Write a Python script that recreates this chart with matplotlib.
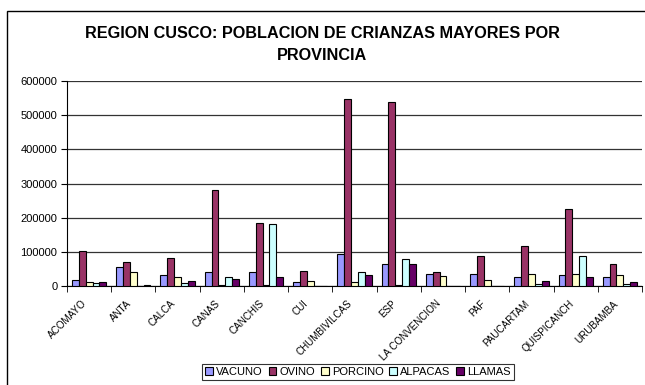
import matplotlib
matplotlib.use("Agg")
import matplotlib.pyplot as plt
import numpy as np
from matplotlib.patches import Rectangle

plt.rcParams['font.family'] = ['Liberation Sans', 'DejaVu Sans']

provincias = ["ACOMAYO", "ANTA", "CALCA", "CANAS", "CANCHIS", "CUI",
              "CHUMBIVILCAS", "ESP", "LA CONVENCION", "PAF", "PAUCARTAM",
              "QUISPICANCH", "URUBAMBA"]
vacuno  = [17500, 54500, 31000, 41000, 40000, 11500, 93000, 64000, 36000, 34000, 27000, 31000, 25000]
ovino   = [101000, 70000, 83000, 280000, 183000, 44500, 546000, 540000, 40000, 88000, 117000, 225000, 64000]
porcino = [11000, 40000, 25000, 2000, 2000, 15000, 11500, 1500, 30000, 17500, 35000, 34000, 31000]
alpacas = [8000, 1000, 10000, 25000, 181000, 500, 40000, 78000, 0, 500, 5000, 88500, 5000]
llamas  = [12500, 1500, 15500, 21500, 26000, 1000, 31000, 64000, 0, 1000, 15500, 26000, 11000]

series = [("VACUNO", vacuno, "#9999FF"),
          ("OVINO", ovino, "#993366"),
          ("PORCINO", porcino, "#FFFFCC"),
          ("ALPACAS", alpacas, "#CCFFFF"),
          ("LLAMAS", llamas, "#660066")]

fig = plt.figure(figsize=(6.45, 3.85), dpi=100)
fig.patch.set_facecolor("white")

# outer chart frame
fig.add_artist(Rectangle((7 / 645, -0.1), 1.2, 1 - 11 / 385 + 0.1,
                         transform=fig.transFigure, fill=False,
                         edgecolor="black", linewidth=1.0))

ax = fig.add_axes([67 / 645, 1 - 286 / 385, 575 / 645, 205 / 385])

x = np.arange(len(provincias))
bw = 0.155
for i, (name, vals, col) in enumerate(series):
    ax.bar(x + (i - 2) * bw, vals, width=bw, color=col, edgecolor="black",
           linewidth=0.8, label=name, zorder=3)

ax.set_xlim(-0.5, len(provincias) - 0.5)
ax.set_ylim(0, 600000)
ax.set_yticks(np.arange(0, 600001, 100000))
ax.set_yticklabels([str(v) for v in range(0, 600001, 100000)], fontsize=8)
ax.yaxis.grid(True, color="#333333", linewidth=0.9, zorder=0)
ax.set_axisbelow(True)

ax.set_xticks(x)
ax.set_xticklabels(provincias, rotation=45, ha="right", fontsize=7.1)
ax.tick_params(axis="x", length=0, pad=9)
ax.set_xticks(np.arange(-0.5, len(provincias), 1), minor=True)
ax.tick_params(axis="x", which="minor", length=4, direction="out", color="black")
ax.tick_params(axis="y", length=4, direction="out", pad=3)

for s in ["top", "right"]:
    ax.spines[s].set_visible(False)
ax.spines["left"].set_color("black")
ax.spines["bottom"].set_color("black")

fig.text(0.5, 1 - 33 / 385, "REGION CUSCO: POBLACION DE CRIANZAS MAYORES POR",
         ha="center", va="center", fontsize=11.7, fontweight="bold")
fig.text(0.5, 1 - 55 / 385, "PROVINCIA",
         ha="center", va="center", fontsize=11.7, fontweight="bold")

leg = fig.legend(loc="center", bbox_to_anchor=(358 / 645, 1 - 372 / 385),
                 ncol=5, fontsize=8, frameon=True, fancybox=False,
                 edgecolor="black", handlelength=0.7, handleheight=0.7,
                 handletextpad=0.3, columnspacing=0.5, borderpad=0.3)
leg.get_frame().set_linewidth(0.8)

fig.savefig("out.png", dpi=100, facecolor="white")
